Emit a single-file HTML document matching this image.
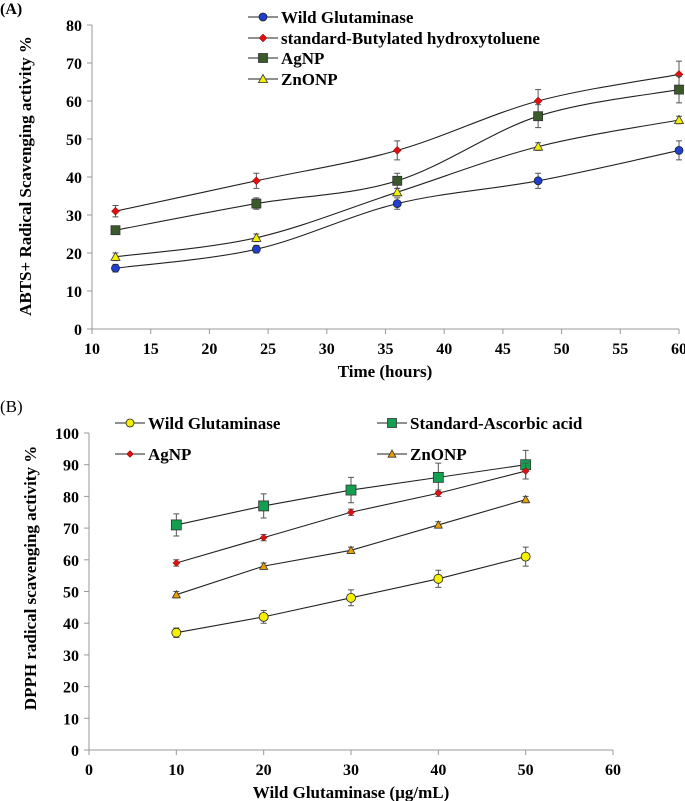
<!DOCTYPE html>
<html><head><meta charset="utf-8">
<style>
body{margin:0;background:#fff;}
svg{display:block;font-family:"Liberation Serif",serif;}
.t{font-weight:bold;font-size:16px;}
</style></head>
<body>
<svg id="c" width="685" height="801" viewBox="0 0 685 801" xmlns="http://www.w3.org/2000/svg"></svg>
<script>
// Chart A data
const aX = [12, 24, 36, 48, 60];
const aWild = [16, 21, 33, 39, 47];
const aWildErr = [1, 1, 1.5, 2, 2.5];
const aBHT = [31, 39, 47, 60, 67];
const aBHTErr = [1.5, 2, 2.5, 3, 3.5];
const aAg = [26, 33, 39, 56, 63];
const aAgErr = [1, 1.5, 2, 3, 3.5];
const aZn = [19, 24, 36, 48, 55];
const aZnErr = [1, 1, 1, 1, 1];
const aXTicks = [10, 15, 20, 25, 30, 35, 40, 45, 50, 55, 60];
const aYTicks = [0, 10, 20, 30, 40, 50, 60, 70, 80];
// Chart B data
const bX = [10, 20, 30, 40, 50];
const bWild = [37, 42, 48, 54, 61];
const bWildErr = [1.5, 2, 2.5, 2.7, 3];
const bAsc = [71, 77, 82, 86, 90];
const bAscErr = [3.5, 3.8, 4, 4.5, 4.5];
const bAg = [59, 67, 75, 81, 88];
const bAgErr = [1, 1, 1, 1, 2.5];
const bZn = [49, 58, 63, 71, 79];
const bZnErr = [1, 1, 1, 1, 1];
const bXTicks = [0, 10, 20, 30, 40, 50, 60];
const bYTicks = [0, 10, 20, 30, 40, 50, 60, 70, 80, 90, 100];

const NS = "http://www.w3.org/2000/svg";
const svg = document.getElementById('c');
function mk(tag, attrs, parent, text){
  const e = document.createElementNS(NS, tag);
  for (const k in attrs) e.setAttribute(k, attrs[k]);
  if (text !== undefined) e.textContent = text;
  (parent || svg).appendChild(e);
  return e;
}
const xA = v => 92 + (v - 10) / 50 * 587;
const yA = v => 329 - v / 80 * 304;
const xB = v => 89 + v / 60 * 524;
const yB = v => 750 - v / 100 * 317;

function marker(g, shape, cx, cy, fill, s){
  let e;
  if (shape === 'circle') e = mk('circle', {cx, cy, r: s, fill, stroke: '#222', 'stroke-width': 0.8}, g);
  else if (shape === 'square') e = mk('rect', {x: cx - s, y: cy - s, width: 2 * s, height: 2 * s, fill, stroke: '#333', 'stroke-width': 0.8}, g);
  else if (shape === 'diamond') e = mk('polygon', {points: `${cx},${cy - s} ${cx + s},${cy} ${cx},${cy + s} ${cx - s},${cy}`, fill, stroke: '#600', 'stroke-width': 0.5}, g);
  else e = mk('polygon', {points: `${cx},${cy - s} ${cx + s},${cy + s * 0.8} ${cx - s},${cy + s * 0.8}`, fill, stroke: '#333', 'stroke-width': 0.8}, g);
  
  
}
function smoothPath(pts){
  let d = `M${pts[0][0]},${pts[0][1]}`;
  for (let i = 0; i < pts.length - 1; i++){
    const p0 = pts[Math.max(0, i - 1)], p1 = pts[i], p2 = pts[i + 1], p3 = pts[Math.min(pts.length - 1, i + 2)];
    const c1 = [p1[0] + (p2[0] - p0[0]) / 6, p1[1] + (p2[1] - p0[1]) / 6];
    const c2 = [p2[0] - (p3[0] - p1[0]) / 6, p2[1] - (p3[1] - p1[1]) / 6];
    d += ` C${c1[0]},${c1[1]} ${c2[0]},${c2[1]} ${p2[0]},${p2[1]}`;
  }
  return d;
}
function series(name, xs, ys, errs, fx, fy, shape, fill, s, smooth){
  const g = mk('g', {});
  
  
  const pts = xs.map((x, i) => [fx(x), fy(ys[i])]);
  const d = smooth ? smoothPath(pts) : 'M' + pts.map(p => p.join(',')).join(' L');
  mk('path', {d, fill: 'none', stroke: '#222', 'stroke-width': 1.1}, g);
  xs.forEach((x, i) => {
    const cx = fx(x), t = fy(ys[i] + errs[i]), b = fy(ys[i] - errs[i]);
    const eb = mk('path', {d: `M${cx},${t} V${b} M${cx - 3},${t} H${cx + 3} M${cx - 3},${b} H${cx + 3}`, stroke: '#555', 'stroke-width': 1, fill: 'none'}, g);
    
    
  });
  pts.forEach(p => marker(g, shape, p[0], p[1], fill, s));
}
function axes(name, fx, fy, xt, yt, x0, x1, y0, y1){
  const g = mk('g', {});
  
  
  mk('line', {x1: fx(x0), y1: fy(y0), x2: fx(x1), y2: fy(y0), stroke: '#999', 'stroke-width': 1}, g);
  mk('line', {x1: fx(x0), y1: fy(y0), x2: fx(x0), y2: fy(y1), stroke: '#999', 'stroke-width': 1}, g);
  xt.forEach(v => {
    mk('line', {x1: fx(v), y1: fy(y0), x2: fx(v), y2: fy(y0) + 5, stroke: '#999'}, g);
    const t = mk('text', {x: fx(v), y: fy(y0) + 25, 'text-anchor': 'middle', class: 't'}, g, v);
    
    
  });
  yt.forEach(v => {
    mk('line', {x1: fx(x0) - 5, y1: fy(v), x2: fx(x0), y2: fy(v), stroke: '#999'}, g);
    const t = mk('text', {x: fx(x0) - 10, y: fy(v) + 6, 'text-anchor': 'end', class: 't'}, g, v);
    
    
  });
}
function legendEntry(x, y, label, shape, fill, s, len){
  const g = mk('g', {});
  
  
  mk('line', {x1: x, y1: y, x2: x + len, y2: y, stroke: '#222', 'stroke-width': 1.1}, g);
  marker(g, shape, x + len / 2, y, fill, s);
  mk('text', {x: x + len + 3, y: y + 6, class: 't', style: 'font-size:17px'}, g, label);
}

// Chart A
axes('chart-a-axes', xA, yA, aXTicks, aYTicks, 10, 60, 0, 80);
series('series-wild-glutaminase-a', aX, aWild, aWildErr, xA, yA, 'circle', '#1f3fd0', 4, true);
series('series-bht-a', aX, aBHT, aBHTErr, xA, yA, 'diamond', '#e01010', 4, true);
series('series-agnp-a', aX, aAg, aAgErr, xA, yA, 'square', '#3a5a2a', 4.5, true);
series('series-znonp-a', aX, aZn, aZnErr, xA, yA, 'triangle', '#f5f000', 4.5, true);
mk('text', {x: 0, y: 14, style: 'font-size:16px;font-weight:bold'}, svg, '(A)');
mk('text', {x: 385, y: 377, 'text-anchor': 'middle', class: 't', style: 'font-size:17px'}, svg, 'Time (hours)');
mk('text', {x: 0, y: 0, transform: 'translate(31,176) rotate(-90)', 'text-anchor': 'middle', class: 't', style: 'font-size:17px'}, svg, 'ABTS+ Radical Scavenging activity %');
legendEntry(248, 17, 'Wild Glutaminase', 'circle', '#1f3fd0', 4, 30);
legendEntry(248, 38, 'standard-Butylated hydroxytoluene', 'diamond', '#e01010', 4, 30);
legendEntry(248, 58, 'AgNP', 'square', '#3a5a2a', 4.5, 30);
legendEntry(248, 79, 'ZnONP', 'triangle', '#f5f000', 4.5, 30);

// Chart B
axes('chart-b-axes', xB, yB, bXTicks, bYTicks, 0, 60, 0, 100);
series('series-ascorbic-b', bX, bAsc, bAscErr, xB, yB, 'square', '#12a050', 5, false);
series('series-agnp-b', bX, bAg, bAgErr, xB, yB, 'diamond', '#e01010', 3.5, false);
series('series-znonp-b', bX, bZn, bZnErr, xB, yB, 'triangle', '#e8a000', 4, false);
series('series-wild-glutaminase-b', bX, bWild, bWildErr, xB, yB, 'circle', '#f5f000', 4.5, false);
mk('text', {x: 0, y: 412, style: 'font-size:17px'}, svg, '(B)');
mk('text', {x: 351, y: 798, 'text-anchor': 'middle', class: 't', style: 'font-size:17px'}, svg, 'Wild Glutaminase (µg/mL)');
mk('text', {x: 0, y: 0, transform: 'translate(36,578) rotate(-90)', 'text-anchor': 'middle', class: 't', style: 'font-size:17px'}, svg, 'DPPH  radical scavenging activity %');
legendEntry(115, 423, 'Wild Glutaminase', 'circle', '#f5f000', 4, 30);
legendEntry(377, 423, 'Standard-Ascorbic acid', 'square', '#12a050', 4.5, 30);
legendEntry(115, 454, 'AgNP', 'diamond', '#e01010', 3.5, 30);
legendEntry(377, 454, 'ZnONP', 'triangle', '#e8a000', 4, 30);
</script>
</body></html>
